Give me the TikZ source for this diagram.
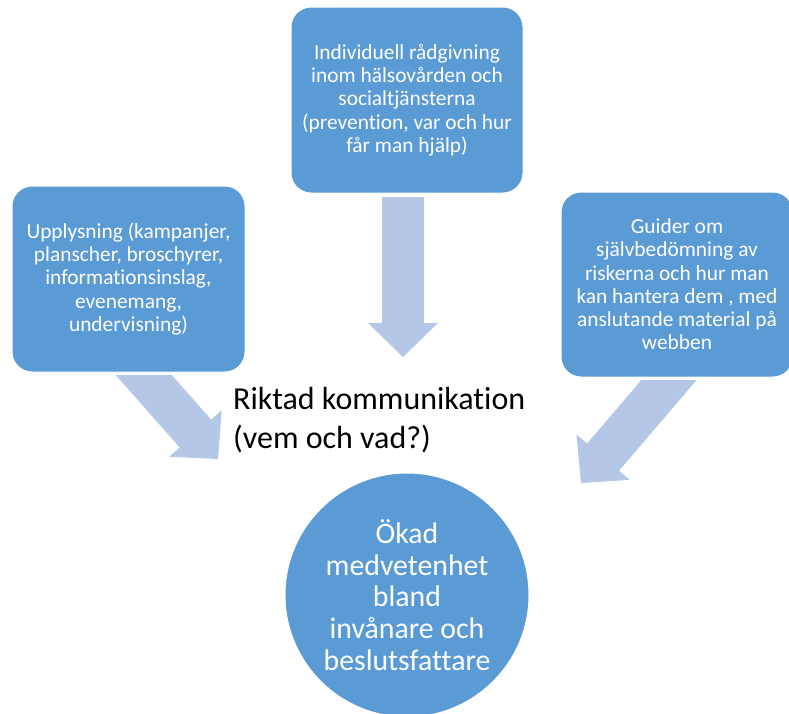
\documentclass[tikz,border=0pt]{standalone}
\usepackage{fontspec}
\setmainfont{Carlito}[Ligatures=NoCommon]
\definecolor{boxblue}{HTML}{5B9BD5}
\definecolor{arrowblue}{HTML}{B4C7E7}
\begin{document}
\begin{tikzpicture}[x=1pt,y=-1pt,
  box/.style={fill=boxblue, draw=white, line width=1pt, rounded corners=20pt,
    text=white, align=center, inner sep=0pt,
    font=\fontsize{21.4}{23.25}\selectfont},
  goal/.style={circle, fill=boxblue, draw=white, line width=1pt, text=white,
    align=center, inner sep=0pt, minimum size=244pt,
    font=\fontsize{29.8}{31.75}\selectfont},
  blockarrow/.style={fill=arrowblue, draw=none},
  caption/.style={anchor=base west, align=left, inner sep=0pt, text=black,
    font=\fontsize{32}{39}\selectfont}
]
\useasboundingbox (0,0) rectangle (789,713);

% block arrows (drawn first, behind the boxes)
\coordinate (tipL) at (218,459);
\coordinate (tipC) at (403,357);
\coordinate (tipR) at (581,483);

\begin{scope}
  \clip (0,375) rectangle (789,713);
  \begin{scope}[shift={(tipL)}, rotate=-48.5]
    \fill[blockarrow] (0,0) -- (-34,35) -- (-34,21) -- (-170,21) -- (-170,-21)
      -- (-34,-21) -- (-34,-35) -- cycle;
  \end{scope}
\end{scope}

\begin{scope}
  \clip (0,197) rectangle (789,713);
  \begin{scope}[shift={(tipC)}, rotate=-90]
    \fill[blockarrow] (0,0) -- (-34,35) -- (-34,21) -- (-170,21) -- (-170,-21)
      -- (-34,-21) -- (-34,-35) -- cycle;
  \end{scope}
\end{scope}

\begin{scope}
  \clip (0,380) rectangle (789,713);
  \begin{scope}[shift={(tipR)}, rotate=-130.5]
    \fill[blockarrow] (0,0) -- (-34,35) -- (-34,21) -- (-170,21) -- (-170,-21)
      -- (-34,-21) -- (-34,-35) -- cycle;
  \end{scope}
\end{scope}

% boxes
\node[box, minimum width=233pt, minimum height=186pt] (left) at (128.5,279)
  {Upplysning (kampanjer,\\planscher, broschyrer,\\informationsinslag,\\evenemang,\\undervisning)};
\node[box, minimum width=232pt, minimum height=186pt] (center) at (407,100)
  {Individuell rådgivning\\inom hälsovården och\\socialtjänsterna\\(prevention, var och hur\\får man hjälp)};
\node[box, minimum width=232pt, minimum height=185pt] (right) at (677,284.5)
  {Guider om\\självbedömning av\\riskerna och hur man\\kan hantera dem , med\\anslutande material på\\webben};

% goal
\node[goal] (goal) at (407,595)
  {Ökad\\medvetenhet\\bland\\invånare och\\beslutsfattare};

% caption (base anchor = baseline of last line)
\node[caption] (cap) at (233,448) {Riktad kommunikation\\(vem och vad?)};
\end{tikzpicture}
\end{document}
